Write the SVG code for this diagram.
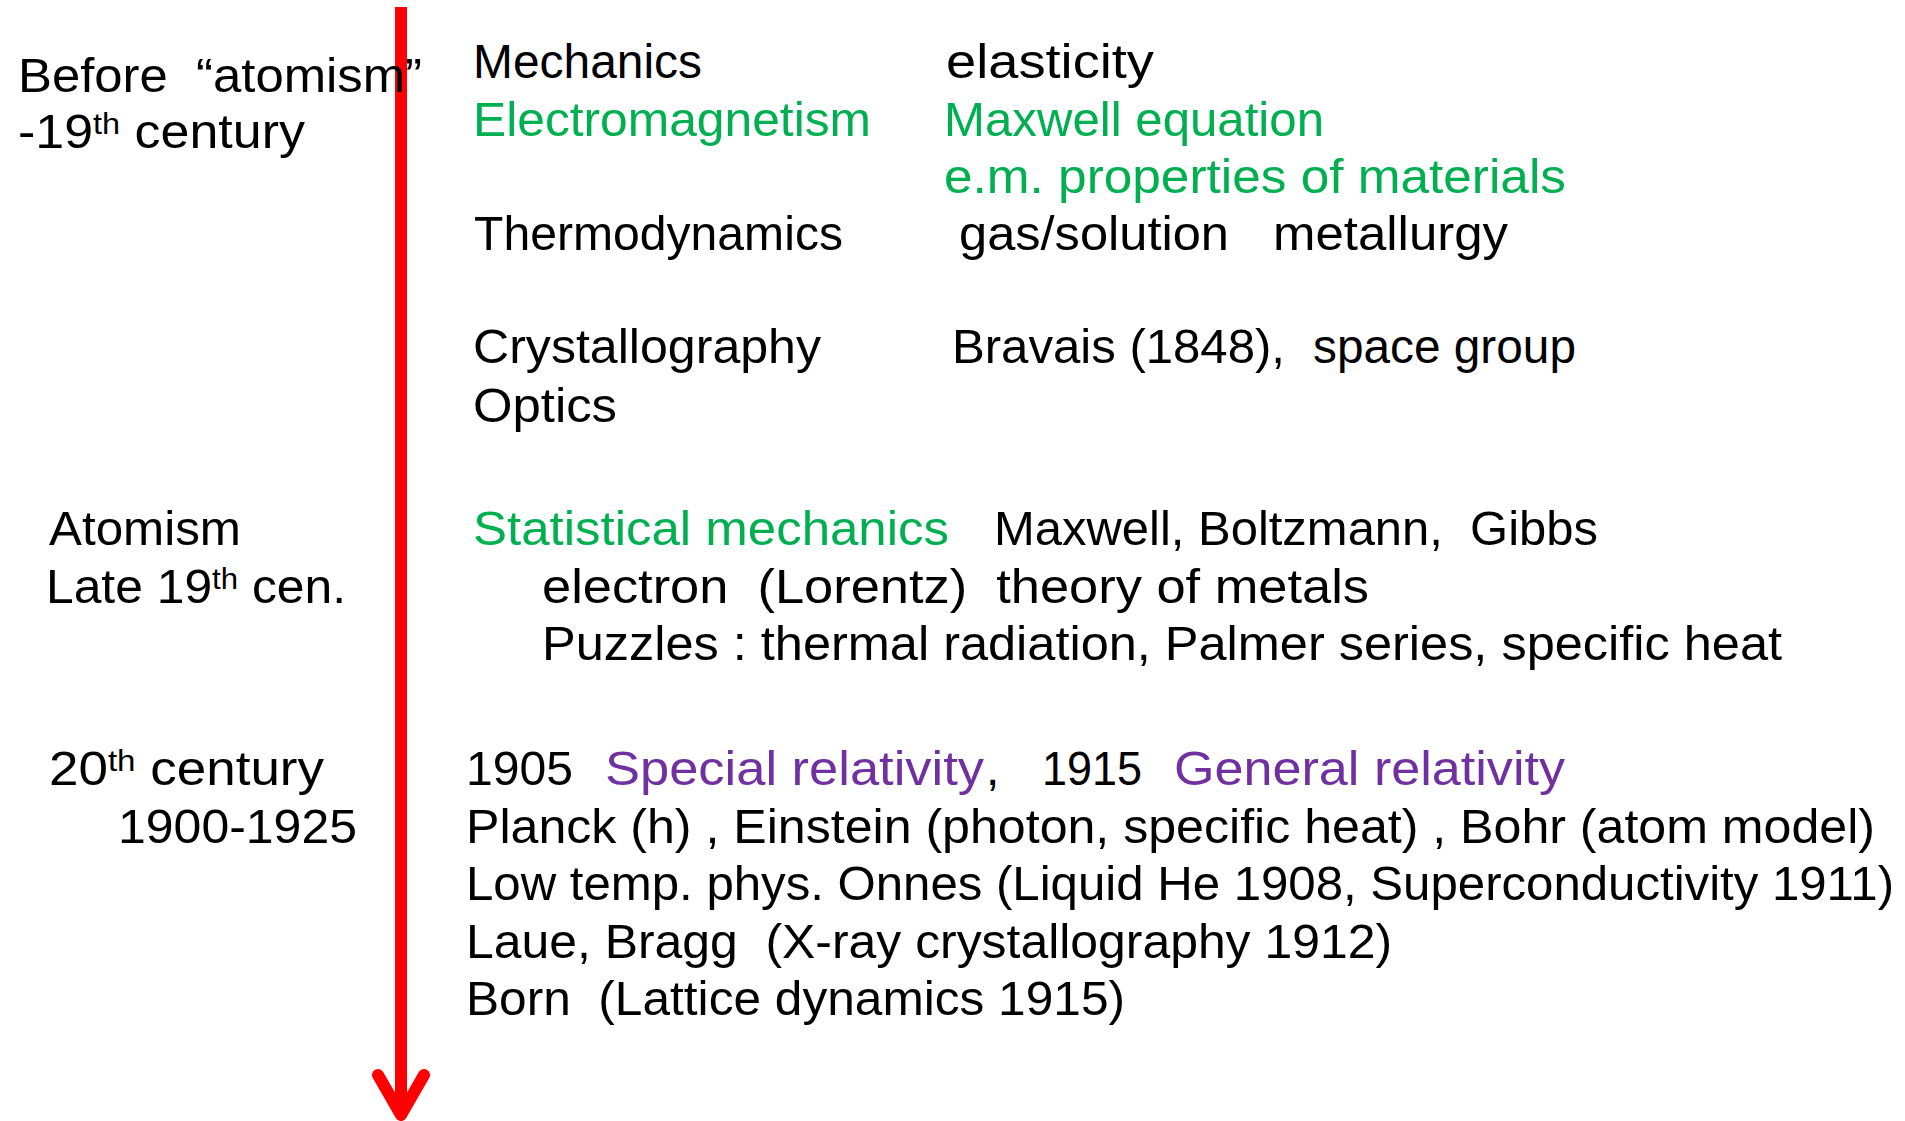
<svg xmlns="http://www.w3.org/2000/svg" width="1905" height="1121" viewBox="0 0 1905 1121">
<style>
text{font-family:"Liberation Sans","DejaVu Sans",sans-serif;font-size:48px;fill:#000;white-space:pre}
.g{fill:#00B050}
.p{fill:#7030A0}
.sup{font-size:30px}
.ax{stroke:#FF0000;stroke-width:12;fill:none}
</style>
<rect width="1905" height="1121" fill="#fff"/>
<g id="connectors">
<line class="ax" x1="401" y1="7" x2="401" y2="1112"/>
<polyline class="ax" points="378,1075 401,1115 424,1075" stroke-linecap="round" stroke-linejoin="round"/>
</g>
<g id="era1">
<text x="18" y="92" textLength="404" lengthAdjust="spacingAndGlyphs" xml:space="preserve">Before  “atomism”</text>
<text x="18" y="148" textLength="287" lengthAdjust="spacingAndGlyphs" xml:space="preserve">-19<tspan class="sup" dy="-14">th</tspan><tspan dy="14"> century</tspan></text>
</g>
<g id="topics1">
<text x="473" y="78" textLength="229" lengthAdjust="spacingAndGlyphs">Mechanics</text>
<text x="946" y="78" textLength="208" lengthAdjust="spacingAndGlyphs">elasticity</text>
<text class="g" x="473" y="136" textLength="398" lengthAdjust="spacingAndGlyphs">Electromagnetism</text>
<text class="g" x="944" y="136" textLength="380" lengthAdjust="spacingAndGlyphs">Maxwell equation</text>
<text class="g" x="944" y="193" textLength="622" lengthAdjust="spacingAndGlyphs">e.m. properties of materials</text>
<text x="474" y="250" textLength="369" lengthAdjust="spacingAndGlyphs">Thermodynamics</text>
<text x="959" y="250" textLength="270" lengthAdjust="spacingAndGlyphs">gas/solution</text>
<text x="1273" y="250" textLength="235" lengthAdjust="spacingAndGlyphs">metallurgy</text>
<text x="473" y="363" textLength="348" lengthAdjust="spacingAndGlyphs">Crystallography</text>
<text x="952" y="363" textLength="333" lengthAdjust="spacingAndGlyphs">Bravais (1848),</text>
<text x="1313" y="363" textLength="263" lengthAdjust="spacingAndGlyphs">space group</text>
<text x="473" y="422" textLength="144" lengthAdjust="spacingAndGlyphs">Optics</text>
</g>
<g id="era2">
<text x="49" y="545" textLength="192" lengthAdjust="spacingAndGlyphs">Atomism</text>
<text x="46" y="603" textLength="300" lengthAdjust="spacingAndGlyphs" xml:space="preserve">Late 19<tspan class="sup" dy="-14">th</tspan><tspan dy="14"> cen.</tspan></text>
</g>
<g id="topics2">
<text class="g" x="473" y="545" textLength="476" lengthAdjust="spacingAndGlyphs">Statistical mechanics</text>
<text x="994" y="545" textLength="604" lengthAdjust="spacingAndGlyphs" xml:space="preserve">Maxwell, Boltzmann,  Gibbs</text>
<text x="542" y="603" textLength="827" lengthAdjust="spacingAndGlyphs" xml:space="preserve">electron  (Lorentz)  theory of metals</text>
<text x="542" y="660" textLength="1240" lengthAdjust="spacingAndGlyphs">Puzzles : thermal radiation, Palmer series, specific heat</text>
</g>
<g id="era3">
<text x="49" y="785" textLength="275" lengthAdjust="spacingAndGlyphs" xml:space="preserve">20<tspan class="sup" dy="-14">th</tspan><tspan dy="14"> century</tspan></text>
<text x="118" y="843" textLength="239" lengthAdjust="spacingAndGlyphs">1900-1925</text>
</g>
<g id="topics3">
<text x="466" y="785" textLength="107" lengthAdjust="spacingAndGlyphs">1905</text>
<text class="p" x="605" y="785" textLength="379" lengthAdjust="spacingAndGlyphs">Special relativity</text>
<text x="986" y="785">,</text>
<text x="1042" y="785" textLength="100" lengthAdjust="spacingAndGlyphs">1915</text>
<text class="p" x="1174" y="785" textLength="391" lengthAdjust="spacingAndGlyphs">General relativity</text>
<text x="466" y="843" textLength="1409" lengthAdjust="spacingAndGlyphs">Planck (h) , Einstein (photon, specific heat) , Bohr (atom model)</text>
<text x="466" y="900" textLength="1428" lengthAdjust="spacingAndGlyphs">Low temp. phys. Onnes (Liquid He 1908, Superconductivity 1911)</text>
<text x="466" y="958" textLength="926" lengthAdjust="spacingAndGlyphs" xml:space="preserve">Laue, Bragg  (X-ray crystallography 1912)</text>
<text x="466" y="1015" textLength="659" lengthAdjust="spacingAndGlyphs" xml:space="preserve">Born  (Lattice dynamics 1915)</text>
</g>
</svg>
